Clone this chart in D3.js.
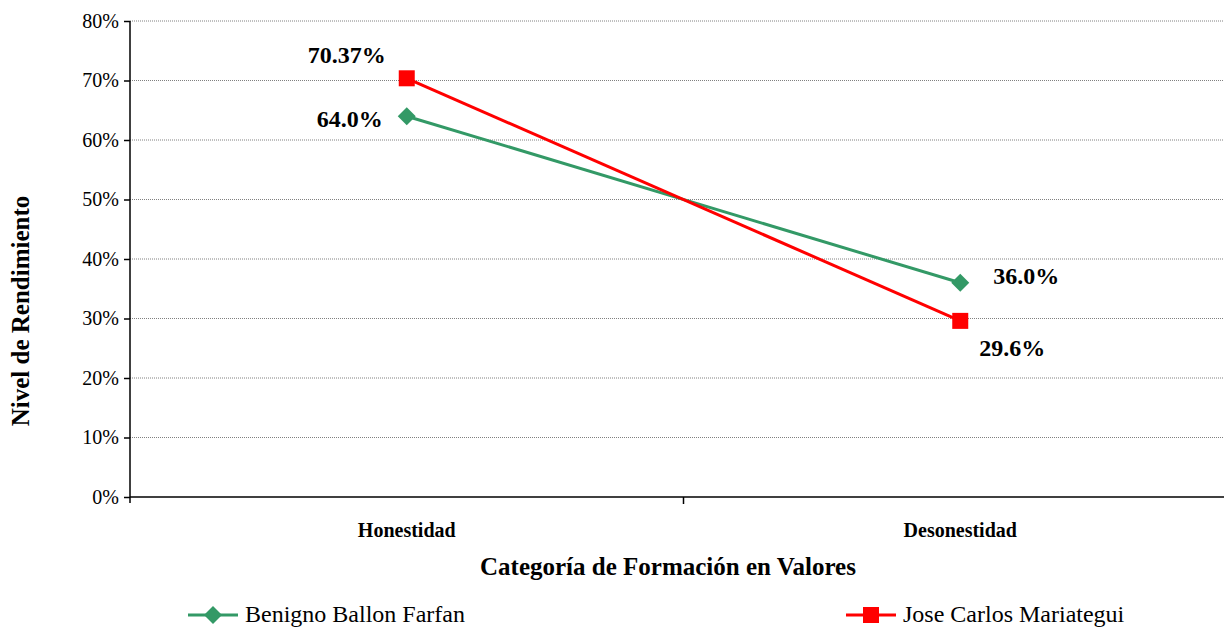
<!DOCTYPE html>
<html>
<head>
<meta charset="utf-8">
<script src="https://cdn.jsdelivr.net/npm/d3@7"></script>
<style>
  body { margin: 0; background: #fff; }
  svg { display: block; font-family: "Liberation Serif", "Times New Roman", serif; }
  .grid line { stroke: #808080; stroke-width: 1; stroke-dasharray: 1,1; }
  .axis path, .axis line { stroke: #000; stroke-width: 1.5; }
</style>
</head>
<body>
<div id="chart"></div>
<script>
(function() {
  'use strict';
  var categories = ['Honestidad', 'Desonestidad'],
      seriesNames = ['Benigno Ballon Farfan', 'Jose Carlos Mariategui'],
      benigno = [0.64, 0.36],
      mariategui = [0.7037, 0.296],
      benignoLabels = ['64.0%', '36.0%'],
      mariateguiLabels = ['70.37%', '29.6%'],
      yTicks = [0, 0.1, 0.2, 0.3, 0.4, 0.5, 0.6, 0.7, 0.8];

  var width = 1224, height = 629,
      plot = {left: 130, right: 1237, top: 21, bottom: 497};

  var svg = d3.select('#chart').append('svg')
    .attr('width', width)
    .attr('height', height);

  var x = d3.scaleBand().domain(categories).range([plot.left, plot.right]),
      y = d3.scaleLinear().domain([0, 0.8]).range([plot.bottom, plot.top]);

  // Gridlines
  svg.append('g').classed('grid', true)
    .selectAll('line').data(yTicks.slice(1))
    .enter().append('line')
      .attr('x1', plot.left).attr('x2', width)
      .attr('y1', function(d) { return y(d); })
      .attr('y2', function(d) { return y(d); });

  // Y axis
  svg.append('g').classed('axis', true)
    .attr('transform', 'translate(' + plot.left + ',0)')
    .call(d3.axisLeft(y).tickValues(yTicks).tickFormat(d3.format('.0%')).tickSize(6).tickPadding(5).tickSizeOuter(0))
    .call(function(g) {
      g.attr('font-size', null).attr('font-family', null);
      g.selectAll('text').style('font-size', '20px').attr('fill', '#000');
      g.select('.domain').attr('d', 'M0,' + plot.top + 'V' + (plot.bottom + 6));
    });

  // X axis
  var xAxisG = svg.append('g').classed('axis', true)
    .attr('transform', 'translate(0,' + plot.bottom + ')');
  xAxisG.append('line').attr('x1', plot.left).attr('x2', width).attr('y1', 0).attr('y2', 0);
  xAxisG.selectAll('line.tick').data([x('Desonestidad')])
    .enter().append('line').classed('tick', true)
      .attr('x1', function(d) { return d; }).attr('x2', function(d) { return d; })
      .attr('y1', 0).attr('y2', 7);
  xAxisG.selectAll('text').data(categories)
    .enter().append('text')
      .attr('x', function(d) { return x(d) + x.bandwidth() / 2; })
      .attr('y', 40)
      .attr('text-anchor', 'middle')
      .style('font-size', '20px').style('font-weight', 'bold')
      .text(function(d) { return d; });

  // Axis titles
  svg.append('text')
    .attr('x', 668).attr('y', 575)
    .attr('text-anchor', 'middle')
    .style('font-size', '25px').style('font-weight', 'bold')
    .text('Categoría de Formación en Valores');
  svg.append('text')
    .attr('transform', 'translate(29,' + 311 + ') rotate(-90)')
    .attr('text-anchor', 'middle')
    .style('font-size', '25px').style('font-weight', 'bold')
    .text('Nivel de Rendimiento');

  var cx = function(d, i) { return x(categories[i]) + x.bandwidth() / 2; };
  var line = d3.line().x(cx).y(function(d) { return y(d); });

  var series = [
    {name: seriesNames[0], values: benigno, labels: benignoLabels, color: '#339966', shape: 'diamond',
     labelPos: [{dx: -24, dy: 5, anchor: 'end'}, {dx: 33, dy: -4, anchor: 'start'}]},
    {name: seriesNames[1], values: mariategui, labels: mariateguiLabels, color: '#ff0000', shape: 'square',
     labelPos: [{dx: -21, dy: -21, anchor: 'end'}, {dx: 19, dy: 30, anchor: 'start'}]}
  ];

  function marker(g, shape, color) {
    if (shape === 'square') {
      g.append('rect').attr('x', -8).attr('y', -8).attr('width', 16).attr('height', 16).attr('fill', color);
    } else {
      g.append('path').attr('d', 'M0,-9L9,0L0,9L-9,0Z').attr('fill', color);
    }
  }

  series.forEach(function(s) {
    svg.append('path')
      .datum(s.values)
      .attr('fill', 'none')
      .attr('stroke', s.color)
      .attr('stroke-width', 3)
      .attr('d', line);
    s.values.forEach(function(v, i) {
      var g = svg.append('g').attr('transform', 'translate(' + cx(v, i) + ',' + y(v) + ')');
      marker(g, s.shape, s.color);
      svg.append('text')
        .attr('x', cx(v, i) + s.labelPos[i].dx)
        .attr('y', y(v) + s.labelPos[i].dy)
        .attr('text-anchor', s.labelPos[i].anchor)
        .attr('dominant-baseline', 'middle')
        .style('font-size', '24px').style('font-weight', 'bold')
        .text(s.labels[i]);
    });
  });

  // Legend
  var legendX = [188, 846];
  series.forEach(function(s, i) {
    var g = svg.append('g').attr('transform', 'translate(' + legendX[i] + ',615)');
    g.append('line').attr('x1', 0).attr('x2', 50).attr('y1', 0).attr('y2', 0)
      .attr('stroke', s.color).attr('stroke-width', 3);
    var m = g.append('g').attr('transform', 'translate(25,0)');
    marker(m, s.shape, s.color);
    g.append('text')
      .attr('x', 57).attr('y', 1)
      .attr('dominant-baseline', 'middle')
      .style('font-size', '24px')
      .text(s.name);
  });
})();
</script>
</body>
</html>
